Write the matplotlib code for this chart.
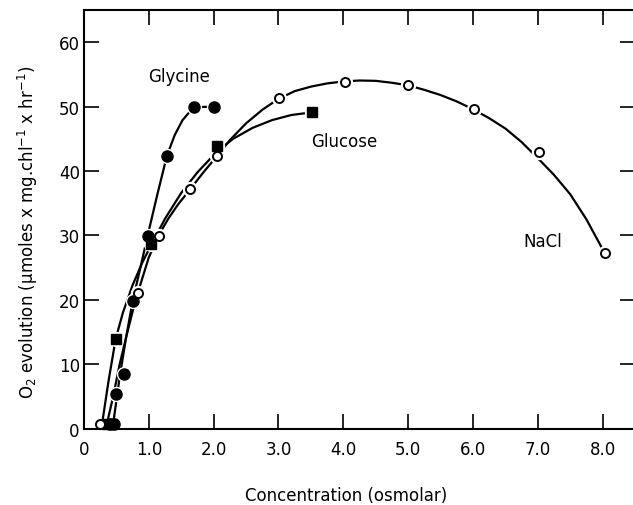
import matplotlib
matplotlib.use('Agg')
import matplotlib.pyplot as plt

glycine_x = [0.40, 0.46, 0.50, 0.61, 0.75, 0.98, 1.28, 1.69, 2.01]
glycine_y = [0.8, 0.8, 5.4, 8.5, 19.8, 29.9, 42.4, 49.9, 50.0]
glucose_x = [0.35, 0.43, 0.49, 1.04, 2.05, 3.51]
glucose_y = [0.8, 0.8, 14.0, 28.6, 43.9, 49.1]
nacl_x = [0.25, 0.83, 1.15, 1.64, 2.05, 3.01, 4.02, 5.0, 6.02, 7.02, 8.03]
nacl_y = [0.8, 21.1, 29.9, 37.2, 42.3, 51.4, 53.8, 53.3, 49.6, 42.9, 27.3]

# hand drawn curves
glycine_fit_x = [0.46, 0.55, 0.65, 0.75, 0.87, 0.98, 1.13, 1.28, 1.40, 1.52, 1.69, 2.01]
glycine_fit_y = [1.5, 8.0, 14.2, 19.8, 25.0, 29.9, 36.3, 42.4, 45.6, 47.9, 49.9, 50.0]
glucose_fit_x = [0.29, 0.38, 0.49, 0.60, 0.75, 0.90, 1.04, 1.25, 1.50, 1.75,
                 2.05, 2.30, 2.60, 2.90, 3.20, 3.51]
glucose_fit_y = [1.5, 7.5, 14.0, 18.0, 22.3, 25.8, 28.6, 32.6, 36.6, 39.8,
                 43.0, 45.0, 46.7, 47.9, 48.7, 49.1]
nacl_fit_x = [0.37, 0.45, 0.55, 0.65, 0.75, 0.83, 1.0, 1.15, 1.30, 1.45, 1.64,
              1.85, 2.05, 2.25, 2.5, 2.75, 3.0, 3.25, 3.5, 3.75, 4.0, 4.25,
              4.5, 4.75, 5.0, 5.25, 5.5, 5.75, 6.0, 6.25, 6.5, 6.75, 7.0,
              7.25, 7.5, 7.75, 8.03]
nacl_fit_y = [1.5, 5.0, 10.0, 14.2, 18.2, 21.1, 26.6, 30.0, 32.6, 34.8, 37.2,
              39.9, 42.3, 44.8, 47.4, 49.5, 51.2, 52.4, 53.1, 53.6, 53.9, 54.05,
              54.0, 53.7, 53.3, 52.6, 51.8, 50.8, 49.6, 48.2, 46.6, 44.5, 42.0,
              39.4, 36.4, 32.5, 27.3]

xticks = [0, 1, 2, 3, 4, 5, 6, 7, 8]
xticklabels = ['0', '1.0', '2.0', '3.0', '4.0', '5.0', '6.0', '7.0', '8.0']
yticks = [0, 10, 20, 30, 40, 50, 60]

plt.rcParams['font.family'] = 'DejaVu Sans'
fig = plt.figure(figsize=(6.33, 5.06), dpi=100)
ax = fig.add_axes([0.1327, 0.1508, 0.8705, 0.8275])

ax.plot(glycine_fit_x, glycine_fit_y, color='black', lw=1.6, zorder=2, clip_on=False)
ax.plot(glucose_fit_x, glucose_fit_y, color='black', lw=1.6, zorder=2, clip_on=False)
ax.plot(nacl_fit_x, nacl_fit_y, color='black', lw=1.6, zorder=2, clip_on=False)

# white halos give the little breaks in the lines next to each symbol
for xs, ys in [(glycine_x, glycine_y), (glucose_x, glucose_y), (nacl_x, nacl_y)]:
    hx = [x for x, y in zip(xs, ys) if y > 2]
    hy = [y for y in ys if y > 2]
    ax.plot(hx, hy, 'o', ms=10, color='white', zorder=3, clip_on=False)

ax.plot(glycine_x, glycine_y, 'o', ms=8, color='black', zorder=4, clip_on=False)
ax.plot(glucose_x, glucose_y, 's', ms=7, color='black', zorder=4, clip_on=False)
ax.plot(nacl_x, nacl_y, 'o', ms=6.5, mfc='white', mec='black', mew=1.4,
        zorder=5, clip_on=False)

ax.text(1.46, 54.8, 'Glycine', fontsize=12, ha='center', va='center')
ax.text(4.02, 44.6, 'Glucose', fontsize=12, ha='center', va='center')
ax.text(7.07, 29.1, 'NaCl', fontsize=12, ha='center', va='center')

ax.set_xlim(0, 8.5)
ax.set_ylim(0, 65)
ax.set_xticks(xticks)
ax.set_xticklabels(xticklabels)
ax.set_yticks(yticks)
ax.tick_params(axis='both', direction='in', length=11, width=1.2,
               top=True, right=True, labelsize=12)
ax.tick_params(axis='x', pad=8)
ax.tick_params(axis='y', pad=3)
for s in ax.spines.values():
    s.set_linewidth(1.5)

ax.set_xlabel('Concentration (osmolar)', fontsize=12)
ax.xaxis.set_label_coords(0.4755, -0.138)
ax.set_ylabel('O$_2$ evolution (μmoles x mg.chl$^{-1}$ x hr$^{-1}$)', fontsize=12)
ax.yaxis.set_label_coords(-0.08, 0.47)

fig.savefig('out.png', dpi=100)
